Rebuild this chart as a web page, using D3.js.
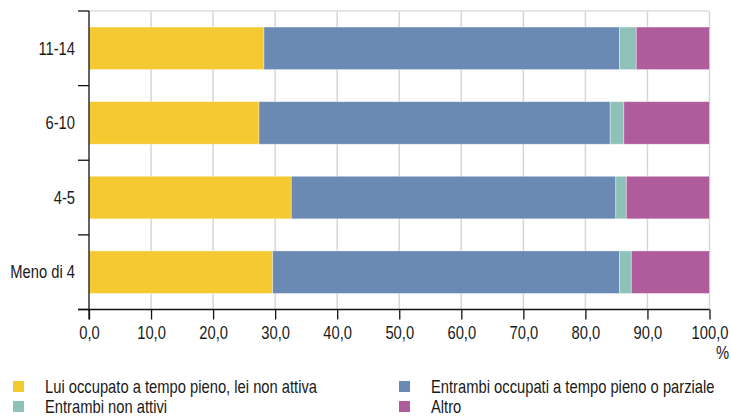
<!DOCTYPE html>
<html>
<head>
<meta charset="utf-8">
<script src="https://cdn.jsdelivr.net/npm/d3@7"></script>
<style>
  html, body { margin: 0; padding: 0; background: #fff; }
  svg text { font-family: "Liberation Sans", Arial, sans-serif; fill: #1a1a1a; }
</style>
</head>
<body>
<svg id="chart" width="731" height="417"></svg>
<script>
// Numero di componenti / fasce d'età (categorie dell'asse verticale)
const categories = ["11-14", "6-10", "4-5", "Meno di 4"];

// Nomi delle serie, nell'ordine di impilamento
const seriesNames = [
  "Lui occupato a tempo pieno, lei non attiva",
  "Entrambi occupati a tempo pieno o parziale",
  "Entrambi non attivi",
  "Altro"
];

// Valori percentuali per serie (stesso ordine delle categorie)
const luiOccupato = [28.2, 27.4, 32.6, 29.6];
const entrambiOccupati = [57.3, 56.6, 52.3, 55.9];
const entrambiNonAttivi = [2.7, 2.2, 1.7, 1.9];
const altro = [11.8, 13.8, 13.4, 12.6];

// Tacche dell'asse orizzontale
const xTickValues = [0, 10, 20, 30, 40, 50, 60, 70, 80, 90, 100];

const colors = ["#F5C932", "#6A8AB3", "#8EC2B9", "#AE5C9B"];

// Carattere "condensato": Liberation Sans ristretto orizzontalmente
const FONT_SIZE = 18;
const SQUEEZE = 0.82;

const rows = categories.map((c, i) => ({
  cat: c,
  s0: luiOccupato[i],
  s1: entrambiOccupati[i],
  s2: entrambiNonAttivi[i],
  s3: altro[i]
}));
const keys = ["s0", "s1", "s2", "s3"];
const stacked = d3.stack().keys(keys)(rows);

const svg = d3.select("#chart");
const plotLeft = 89, plotRight = 709.5, plotTop = 11, plotBottom = 309.5;

const x = d3.scaleLinear().domain([0, 100]).range([plotLeft, plotRight]);
const y = d3.scaleBand().domain(categories).range([plotTop, plotBottom])
  .paddingInner(0.43).paddingOuter(0.215);

const fmt = v => d3.format(".1f")(v).replace(".", ",");

// Testo condensato posizionato in (tx, ty)
function condensedText(sel, tx, ty, anchor, str) {
  return sel.append("text")
    .attr("transform", `translate(${tx},${ty}) scale(${SQUEEZE},1)`)
    .attr("text-anchor", anchor)
    .attr("font-size", FONT_SIZE)
    .text(str);
}

// Griglia verticale
svg.append("g").selectAll("line")
  .data(xTickValues.filter(v => v > 0))
  .join("line")
  .attr("x1", d => x(d)).attr("x2", d => x(d))
  .attr("y1", plotTop).attr("y2", plotBottom)
  .attr("stroke", "#d6d6d6").attr("stroke-width", 1.5);

// Bordo superiore dell'area del grafico
svg.append("line")
  .attr("x1", plotLeft).attr("x2", plotRight).attr("y1", plotTop).attr("y2", plotTop)
  .attr("stroke", "#dcdcdc").attr("stroke-width", 1.5);

// Barre impilate
svg.append("g").selectAll("g")
  .data(stacked)
  .join("g")
  .attr("fill", (d, i) => colors[i])
  .selectAll("rect")
  .data(d => d)
  .join("rect")
  .attr("x", d => x(d[0]))
  .attr("width", d => x(d[1]) - x(d[0]))
  .attr("y", d => y(d.data.cat))
  .attr("height", y.bandwidth())
  .attr("stroke", "rgba(255,255,255,0.45)")
  .attr("stroke-width", 0.8);

// Asse orizzontale
const xAxis = d3.axisBottom(x).tickValues(xTickValues).tickFormat(fmt)
  .tickSize(10).tickPadding(7);
const gx = svg.append("g").attr("transform", `translate(0,${plotBottom})`).call(xAxis);
gx.select(".domain").remove();
gx.attr("font-family", null).attr("font-size", null);
gx.selectAll(".tick line").attr("stroke", "#111").attr("stroke-width", 1.3);
gx.selectAll(".tick text")
  .attr("font-size", FONT_SIZE)
  .attr("fill", "#1a1a1a")
  .attr("transform", `scale(${SQUEEZE},1)`);
gx.append("line").attr("x1", 78).attr("x2", plotRight).attr("y1", 0).attr("y2", 0)
  .attr("stroke", "#111").attr("stroke-width", 1.3);

// Asse verticale: tacche ai confini delle categorie
const step = y.step();
const bounds = [plotTop].concat(categories.map(c => y(c) - y.paddingInner() * step / 2 + step));
svg.append("line").attr("x1", plotLeft).attr("x2", plotLeft).attr("y1", plotTop).attr("y2", plotBottom + 10)
  .attr("stroke", "#111").attr("stroke-width", 1.3);
svg.append("g").selectAll("line")
  .data(bounds)
  .join("line")
  .attr("x1", 78).attr("x2", plotLeft)
  .attr("y1", d => d).attr("y2", d => d)
  .attr("stroke", "#111").attr("stroke-width", 1.3);

const gy = svg.append("g");
categories.forEach(c => {
  condensedText(gy, 75, y(c) + y.bandwidth() / 2, "end", c).attr("dy", "0.35em");
});

// Unità di misura
condensedText(svg, 729, 359, "end", "%");

// Legenda
const legendPos = [
  { x: 13, y: 381 },
  { x: 399, y: 381 },
  { x: 13, y: 401 },
  { x: 399, y: 401 }
];
const lg = svg.append("g");
seriesNames.forEach((name, i) => {
  const p = legendPos[i];
  lg.append("rect").attr("x", p.x).attr("y", p.y)
    .attr("width", 11).attr("height", 11).attr("fill", colors[i]);
  condensedText(lg, p.x + 32, p.y + 12, "start", name);
});
</script>
</body>
</html>
